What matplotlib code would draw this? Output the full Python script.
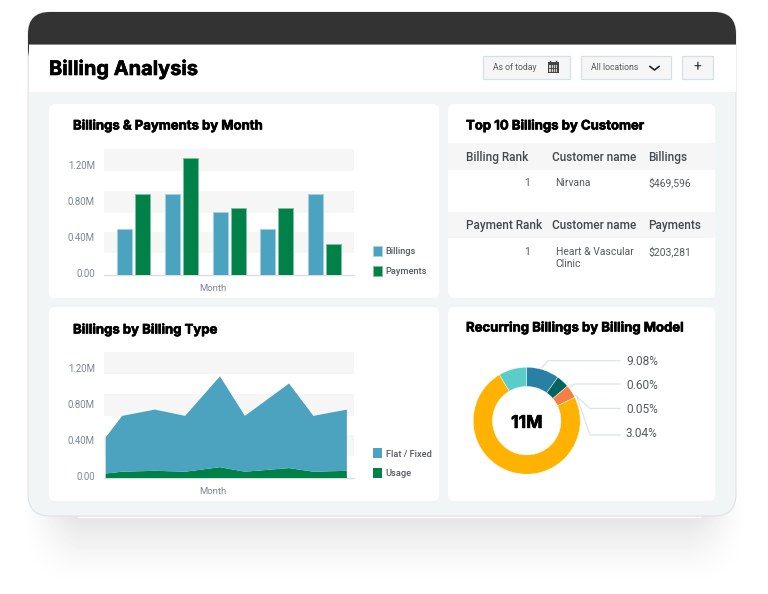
import numpy as np
import matplotlib
matplotlib.use("Agg")
import matplotlib.pyplot as plt
import matplotlib.patheffects as pe
from matplotlib.patches import FancyBboxPatch, Rectangle
from matplotlib.transforms import ScaledTranslation

W, H = 768, 594
DPI = 100

# bar chart
bar_months = [0, 1, 2, 3, 4]
billings = [0.51, 0.90, 0.70, 0.51, 0.90]
payments = [0.90, 1.30, 0.74, 0.74, 0.34]

# area chart
area_months = [0, 0.6, 1.8, 2.9, 4.17, 5.08, 6.69, 7.58, 8.8]
usage = [0.05, 0.07, 0.08, 0.07, 0.12, 0.07, 0.11, 0.07, 0.08]
flat_fixed = [0.40, 0.62, 0.68, 0.62, 1.01, 0.62, 0.94, 0.62, 0.68]

y_ticks = [0, 0.4, 0.8, 1.2]
y_labels = ["0.00", "0.40M", "0.80M", "1.20M"]
bands = [(0.24, 0.48), (0.69, 0.93), (1.16, 1.40)]

# donut, clockwise from 12 o'clock
donut_values = [9.9, 3.9, 4.0, 73.7, 8.5]
donut_colors = ["#2a7fa5", "#00645f", "#f47f45", "#ffb300", "#5bcdc8"]
donut_labels = ["9.08%", "0.60%", "0.05%", "3.04%"]

BLUE = "#4ba3bf"
GREEN = "#008148"
TICK = "#7c8794"
TEXT = "#555a60"
TITLE_FONT = "Inter"
BODY_FONT = "Roboto"
HEAVY = [pe.withStroke(linewidth=0.45, foreground="black")]

plt.rcParams["font.family"] = BODY_FONT

fig = plt.figure(figsize=(W / DPI, H / DPI), dpi=DPI, facecolor="white")

# background canvas in pixel coordinates
bg = fig.add_axes([0, 0, 1, 1])
bg.axis("off")


def round_box(x0, y0, x1, y1, r, fc, ec="none", lw=0, z=1):
    p = FancyBboxPatch((x0 + r, y0 + r), x1 - x0 - 2 * r, y1 - y0 - 2 * r,
                       boxstyle=f"round,pad={r},rounding_size={r}",
                       fc=fc, ec=ec, lw=lw, zorder=z)
    bg.add_patch(p)
    return p


def px_axes(x0, y0, x1, y1):
    return fig.add_axes([x0 / W, 1 - y1 / H, (x1 - x0) / W, (y1 - y0) / H])


def smooth(t):
    t = np.clip(t, 0, 1)
    return t * t * (3 - 2 * t)


# soft shadow under the frame
xs = np.arange(W)
ys = np.arange(H)
fade_x = smooth((xs - 16) / 70) * smooth((752 - xs) / 70)
fade_y = np.clip((592 - ys) / 78, 0, 1) ** 1.7 * smooth((ys - 480) / 36)
shadow = 1 - 0.115 * np.outer(fade_y, fade_x)
bg.imshow(shadow, cmap="gray", vmin=0, vmax=1, extent=(0, W, H, 0), aspect="auto", zorder=0)
bg.set_xlim(0, W)
bg.set_ylim(H, 0)

# frame
round_box(28, 12, 736, 516, 22, "#f1f5f6", ec="#dfe3e6", lw=0.8, z=1)
round_box(28, 12, 736, 70, 22, "#333333", z=2)
bg.add_patch(Rectangle((28.5, 45), 707, 47, fc="white", ec="none", zorder=3))
bg.add_patch(Rectangle((28.5, 44), 707, 1.2, fc="#888888", ec="none", zorder=3))
bg.plot([78, 700], [516.8, 516.8], color="white", lw=1, zorder=3)

bg.text(49, 75, "Billing Analysis", family=TITLE_FONT, weight="bold", fontsize=14.4,
        color="black", va="baseline", zorder=5, path_effects=HEAVY)

# header controls
for x0, x1 in [(482, 570), (580, 671), (681, 713)]:
    bg.add_patch(Rectangle((x0 + 0.5, 55.5), x1 - x0 - 1, 23, fc="#f6f6f6", ec="#d5dfe5", lw=0.9, zorder=4))
bg.text(493, 67, "As of today", fontsize=6.2, color=TEXT, va="center", zorder=5)
bg.text(591, 67, "All locations", fontsize=6.2, color=TEXT, va="center", zorder=5)
bg.text(697, 67, "+", fontsize=10, color="#333333", ha="center", va="center", zorder=5)
bg.plot([650, 654.5, 659], [66.5, 70, 66.5], color="#222222", lw=1.2, zorder=5)
# calendar icon
bg.add_patch(Rectangle((547.5, 62), 11, 11, fc="#444444", ec="none", zorder=5))
bg.add_patch(Rectangle((549, 65), 8, 6.5, fc="#cfcfcf", ec="none", zorder=6))
for gx in [551, 553, 555]:
    bg.plot([gx, gx], [65, 71.5], color="#444444", lw=0.6, zorder=7)
bg.plot([549, 557], [68, 68], color="#444444", lw=0.6, zorder=7)
for gx in [550, 556]:
    bg.plot([gx, gx], [60.5, 63], color="#444444", lw=1, zorder=7)

# cards
for x0, y0, x1, y1 in [(49, 104, 439, 298), (448, 104, 715, 298),
                       (49, 307, 439, 501), (448, 307, 715, 501)]:
    round_box(x0, y0, x1, y1, 6, "white", z=3)

for x, y, s in [(73, 129.5, "Billings & Payments by Month"), (466, 129.5, "Top 10 Billings by Customer"),
                (73, 333.5, "Billings by Billing Type"), (466, 331.5, "Recurring Billings by Billing Model")]:
    bg.text(x, y, s, family=TITLE_FONT, weight="bold", fontsize=9.45, color="black",
            va="baseline", zorder=5, path_effects=HEAVY)

# table
for y0, y1 in [(143, 170), (212, 238)]:
    bg.add_patch(Rectangle((448, y0), 267, y1 - y0, fc="#f6f6f6", ec="none", zorder=4))
for x, y, s in [(466, 161, "Billing Rank"), (552.5, 161, "Customer name"), (648, 161, "Billings"),
                (466, 229, "Payment Rank"), (552.5, 229, "Customer name"), (648, 229, "Payments")]:
    bg.text(x, y, s, fontsize=8.5, weight="medium", color="#44484d", va="baseline", zorder=5)
for y, amount in [(186, "$469,596"), (255, "$203,281")]:
    bg.text(530, y, "1", fontsize=7.5, color=TEXT, ha="right", va="baseline", zorder=5)
    bg.text(648, y, amount, fontsize=7.5, color=TEXT, va="baseline", zorder=5)
bg.text(555.5, 186, "Nirvana", fontsize=7.5, color=TEXT, va="baseline", zorder=5)
bg.text(555.5, 255, "Heart & Vascular", fontsize=7.5, color=TEXT, va="baseline", zorder=5)
bg.text(555.5, 267, "Clinic", fontsize=7.5, color=TEXT, va="baseline", zorder=5)


def style_axes(ax):
    ax.set_facecolor("none")
    ax.set_ylim(0, 1.4)
    for lo, hi in bands:
        ax.axhspan(lo, hi, color="#f6f6f6", lw=0, zorder=0)
    for s in ["top", "right", "left"]:
        ax.spines[s].set_visible(False)
    ax.spines["bottom"].set_color("#d5dfe5")
    ax.spines["bottom"].set_linewidth(1)
    ax.set_yticks(y_ticks, y_labels)
    ax.set_xticks([])
    ax.tick_params(axis="y", length=0, pad=6.5, labelsize=6.9, labelcolor=TICK)
    shift = ScaledTranslation(0, 2 / DPI, fig.dpi_scale_trans)
    for lab in ax.get_yticklabels():
        lab.set_transform(lab.get_transform() + shift)
    ax.set_xlabel("Month", fontsize=6.8, color=TICK, labelpad=6.5, x=(213 - 104) / 250)


def add_legend(ax, handles, labels, x, y):
    ax.legend(handles, labels, loc="lower left", bbox_to_anchor=(x / W, 1 - y / H),
              bbox_transform=fig.transFigure, frameon=False, borderpad=0, borderaxespad=0,
              handlelength=0.95, handleheight=1.3, handletextpad=0.4, labelspacing=1.05,
              prop={"size": 6.7, "weight": "medium"}, labelcolor="#555a60")


# bar chart
ax1 = px_axes(104, 149, 354, 275)
style_axes(ax1)
ax1.set_xlim(-0.625, 4.62)
pos = np.array(bar_months)
b1 = ax1.bar(pos - 0.189, billings, 0.314, color=BLUE, edgecolor="#a5d0de", lw=0.7, zorder=3)
b2 = ax1.bar(pos + 0.189, payments, 0.314, color=GREEN, edgecolor="#7fc0a3", lw=0.7, zorder=3)
add_legend(ax1, [b1, b2], ["Billings", "Payments"], 373, 276)

# area chart
ax2 = px_axes(104, 352, 354, 478)
style_axes(ax2)
ax2.set_xlim(-0.06, 9.06)
a1, a2 = ax2.stackplot(area_months, usage, flat_fixed, colors=[GREEN, BLUE], zorder=3)
add_legend(ax2, [a2, a1], ["Flat / Fixed", "Usage"], 373, 478.5)

# donut
cx, cy, r = 526.7, 420.7, 53.5
ax3 = px_axes(cx - r, cy - r, cx + r, cy + r)
ax3.set_facecolor("none")
ax3.pie(donut_values, colors=donut_colors, startangle=90, counterclock=False, radius=1,
        wedgeprops={"width": 0.36, "edgecolor": "white", "linewidth": 0.3})
ax3.set_xlim(-1, 1)
ax3.set_ylim(-1, 1)
ax3.text(0, -0.05, "11M", family=TITLE_FONT, weight="bold", fontsize=12.6, color="black",
         ha="center", va="center", path_effects=HEAVY)

# leader lines and labels for the donut
leaders = [([541.7, 548, 620], [368, 360.7, 360.7]),
           ([568, 575, 620], [387.5, 384, 384]),
           ([575, 590, 620], [395, 408.5, 408.5]),
           ([577, 590, 620], [397, 435, 435])]
for (lx, ly), lab, ty in zip(leaders, donut_labels, [365, 389, 413, 437]):
    bg.plot(lx, ly, color="#dde5ea", lw=0.9, zorder=5)
    bg.text(626, ty, lab, fontsize=8.6, color=TEXT, va="baseline", zorder=5)

fig.savefig("out.png", dpi=DPI)
